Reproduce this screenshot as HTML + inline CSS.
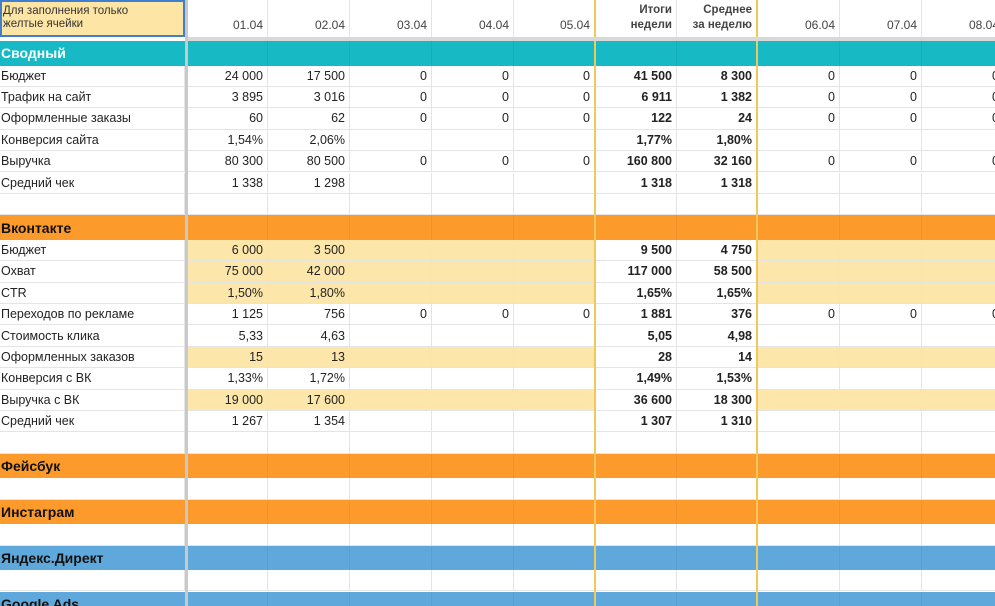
<!DOCTYPE html>
<html><head><meta charset="utf-8">
<style>
body{margin:0;width:995px;height:606px;overflow:hidden;background:#fff;font-family:"Liberation Sans",sans-serif;}
#s{position:absolute;left:0;top:0;width:995px;height:606px;overflow:hidden;}
.c{position:absolute;box-sizing:border-box;border-right:1px solid #e4e4e4;border-bottom:1px solid #e4e4e4;font-size:12.5px;color:#222;white-space:nowrap;overflow:hidden;padding:0 4px;display:flex;align-items:center;justify-content:flex-end;}
.l{justify-content:flex-start;padding-left:1px;}
.b{font-weight:bold;}
</style></head><body>
<div id="s"></div>
<script>
const colX=[0,188,268,350,432,514,595,677,757,840,922,1004];
const headers=["01.04","02.04","03.04","04.04","05.04","Итоги<br>недели","Среднее<br>за неделю","06.04","07.04","08.04"];
const rows=[
 ["sec","Сводный","#17b9c4","#fff"],
 ["r","Бюджет",["24 000","17 500","0","0","0","41 500","8 300","0","0","0"],0],
 ["r","Трафик на сайт",["3 895","3 016","0","0","0","6 911","1 382","0","0","0"],0],
 ["r","Оформленные заказы",["60","62","0","0","0","122","24","0","0","0"],0],
 ["r","Конверсия сайта",["1,54%","2,06%","","","","1,77%","1,80%","","",""],0],
 ["r","Выручка",["80 300","80 500","0","0","0","160 800","32 160","0","0","0"],0],
 ["r","Средний чек",["1 338","1 298","","","","1 318","1 318","","",""],0],
 ["r","",["","","","","","","","","",""],0],
 ["sec","Вконтакте","#fd9a2c","#111"],
 ["r","Бюджет",["6 000","3 500","","","","9 500","4 750","","",""],1],
 ["r","Охват",["75 000","42 000","","","","117 000","58 500","","",""],1],
 ["r","CTR",["1,50%","1,80%","","","","1,65%","1,65%","","",""],1],
 ["r","Переходов по рекламе",["1 125","756","0","0","0","1 881","376","0","0","0"],0],
 ["r","Стоимость клика",["5,33","4,63","","","","5,05","4,98","","",""],0],
 ["r","Оформленных заказов",["15","13","","","","28","14","","",""],1],
 ["r","Конверсия с ВК",["1,33%","1,72%","","","","1,49%","1,53%","","",""],0],
 ["r","Выручка с ВК",["19 000","17 600","","","","36 600","18 300","","",""],1],
 ["r","Средний чек",["1 267","1 354","","","","1 307","1 310","","",""],0],
 ["r","",["","","","","","","","","",""],0],
 ["sec","Фейсбук","#fd9a2c","#111"],
 ["r","",["","","","","","","","","",""],0],
 ["sec","Инстаграм","#fd9a2c","#111"],
 ["r","",["","","","","","","","","",""],0],
 ["sec","Яндекс.Директ","#5fa8db","#111"],
 ["r","",["","","","","","","","","",""],0],
 ["sec","Google Ads","#5fa8db","#111"]
];
const S=document.getElementById('s');
function cell(x,y,w,h,html,cls,bg){
 const d=document.createElement('div');
 d.className='c '+(cls||'');
 d.style.left=x+'px';d.style.top=y+'px';d.style.width=w+'px';d.style.height=h+'px';
 if(bg)d.style.background=bg;
 d.innerHTML=html;S.appendChild(d);return d;
}
let h=cell(0,0,185,37,"Для заполнения только<br>желтые ячейки","l",'#fde5a6');
h.style.border='2px solid #3f7fd0';h.style.fontSize='11.5px';h.style.lineHeight='13px';h.style.alignItems='flex-start';h.style.paddingTop='3px';h.style.color='#333';


for(let i=0;i<10;i++){
 const d=cell(colX[i+1],0,colX[i+2]-colX[i+1],38,headers[i],(i==5||i==6)?'b':'');
 d.style.alignItems='flex-end';d.style.paddingBottom='4px';d.style.textAlign='right';d.style.lineHeight='15px';d.style.fontSize=(i==5||i==6)?'11.5px':'12px';d.style.color='#444';
 
 
}
let y=41;
const RH=21.4, SH=24.5;
rows.forEach(r=>{
 if(r[0]=='sec'){
  const d=cell(0,y,185,SH,r[1],'l b',r[2]);d.style.color=r[3];d.style.fontSize='14px';d.style.borderRight='none';d.style.borderBottom='none';
  
  
  for(let i=0;i<10;i++){const e=cell(colX[i+1],y,colX[i+2]-colX[i+1],SH,'','',r[2]);e.style.borderRight='1px solid rgba(0,0,0,0.05)';e.style.borderBottom='none';
   
   }
  y+=SH;
 } else {
  const d=cell(0,y,185,RH,r[1],'l');
  
  
  for(let i=0;i<10;i++){
   const bg=(r[3]&&i!=5&&i!=6)?'#fde6a9':'#fff';
   const e=cell(colX[i+1],y,colX[i+2]-colX[i+1],RH,r[2][i],(i==5||i==6)?'b':'',bg);
   
   
  }
  y+=RH;
 }
});
function bar(x,w,c){const d=document.createElement('div');d.style.cssText=`position:absolute;left:${x}px;top:0;width:${w}px;height:606px;background:${c}`;
 
 S.appendChild(d);}
bar(185,3,'#c9c9c9');
bar(594,2,'#f2c75c');bar(756,2,'#f2c75c');
const hl=document.createElement('div');hl.style.cssText='position:absolute;left:188px;top:37px;width:807px;height:4px;background:#d8d8d8';


S.appendChild(hl);
</script>
</body></html>
